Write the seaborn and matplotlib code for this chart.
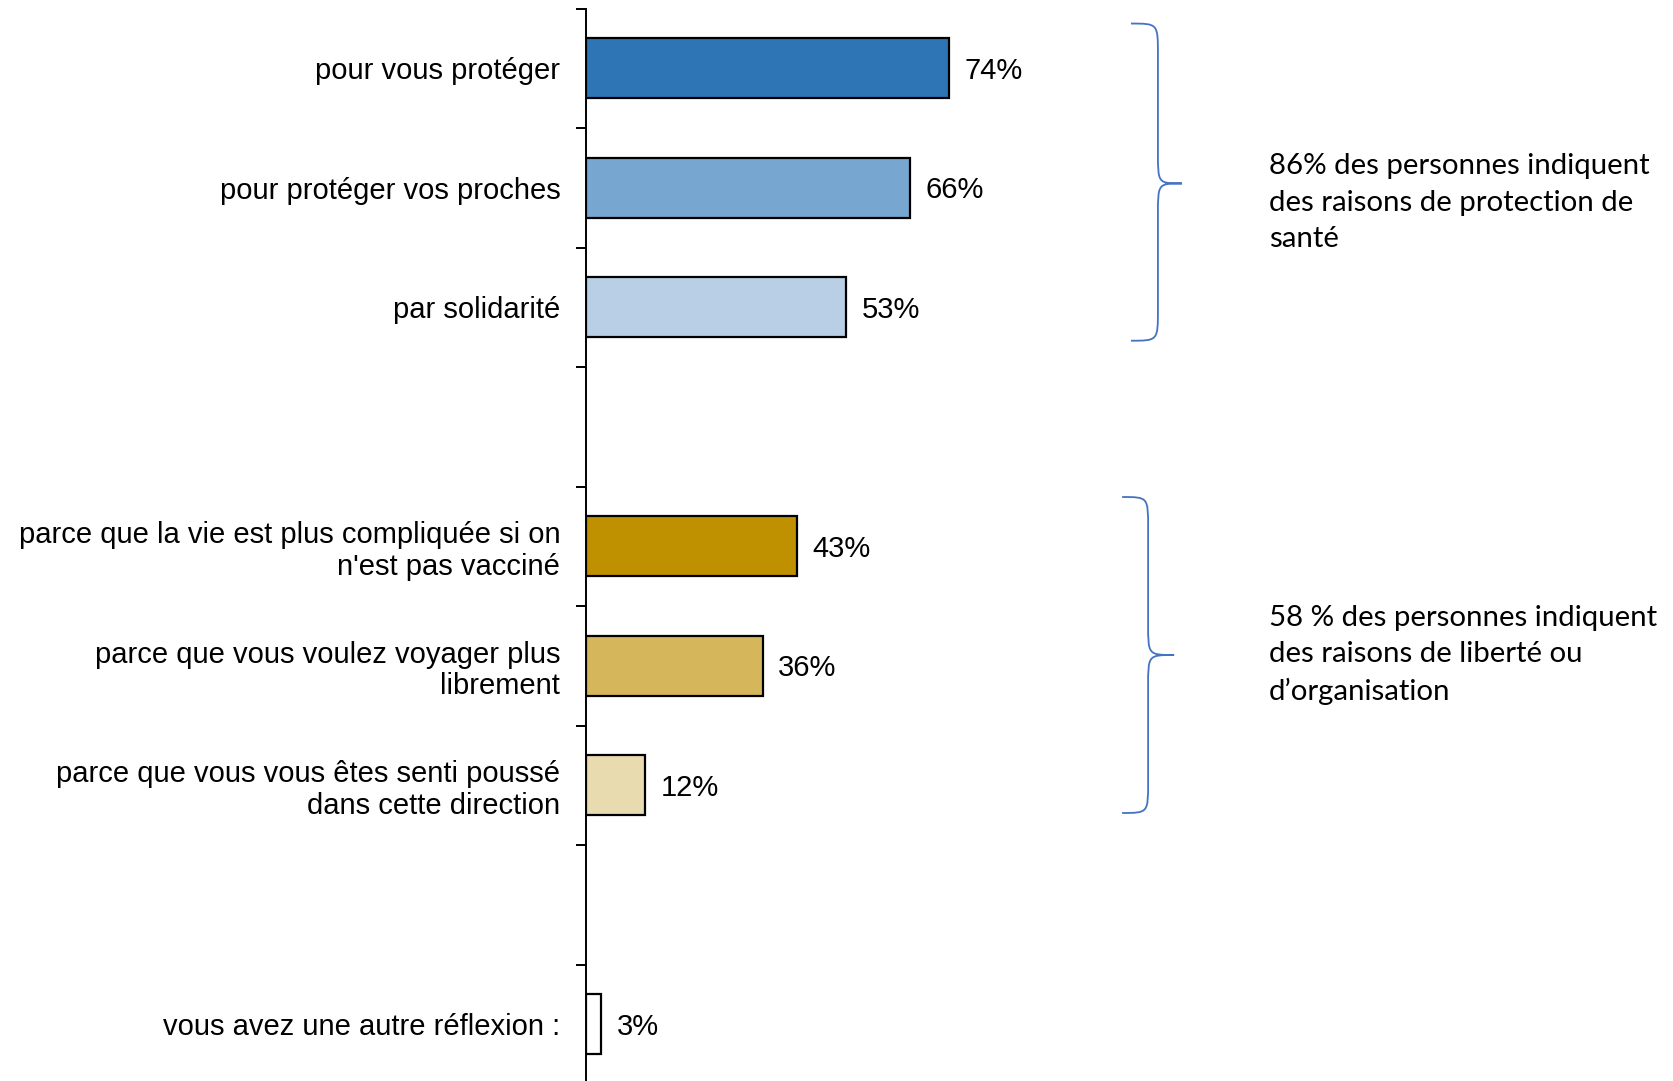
import pandas as pd
import seaborn as sns
import matplotlib.pyplot as plt
from matplotlib.path import Path
from matplotlib.patches import PathPatch

# data
labels = ['pour vous protéger',
          'pour protéger vos proches',
          'par solidarité',
          "parce que la vie est plus compliquée si on\nn'est pas vacciné",
          'parce que vous voulez voyager plus\nlibrement',
          'parce que vous vous êtes senti poussé\ndans cette direction',
          'vous avez une autre réflexion :']
values = [74, 66, 53, 43, 36, 12, 3]
slots = [0, 1, 2, 4, 5, 6, 8]   # rows 3 and 7 stay empty
colors = ['#2E75B6', '#77A6D0', '#B8CFE5', '#BF9000', '#D6B65A', '#E9DBB0', '#FFFFFF']

notes = ['86% des personnes indiquent\ndes raisons de protection de\nsanté',
         '58 % des personnes indiquent\ndes raisons de liberté ou\nd’organisation']
note_rows = [1.125, 4.91]

df = pd.DataFrame({'label': labels, 'value': values, 'slot': slots})

sns.set_theme(style='ticks')
plt.rcParams['font.family'] = ['Liberation Sans', 'DejaVu Sans']

W, H = 1673, 1081
fig = plt.figure(figsize=(W / 100, H / 100), dpi=100)
fig.patch.set_facecolor('white')
# 100% = 490.5 px, one row = 119.5 px
ax = fig.add_axes([586 / W, -3 / H, 490.5 / W, 1075.5 / H])
ax.set_facecolor('white')

sns.barplot(data=df, x='value', y='slot', hue='label', orient='h',
            native_scale=True, dodge=False, palette=dict(zip(labels, colors)),
            saturation=1, width=0.5, edgecolor='black', linewidth=1.6,
            legend=False, ax=ax)

ax.set_xlim(0, 100)
ax.set_ylim(8.5, -0.5)
ax.set_xlabel('')
ax.set_ylabel('')
ax.set_xticks([])
for s in ['top', 'right', 'bottom']:
    ax.spines[s].set_visible(False)
ax.spines['left'].set_linewidth(1.4)
ax.spines['left'].set_color('black')

ax.set_yticks(slots)
ax.set_yticklabels(labels, fontsize=21, color='black')
ax.set_yticks([s - 0.5 for s in range(9)], minor=True)
ax.tick_params(axis='y', which='major', length=0, pad=18.5)
ax.tick_params(axis='y', which='minor', length=7.5, width=1.4, color='black')
for t in ax.get_yticklabels():
    t.set_linespacing(1.17)

for v, s in zip(values, slots):
    ax.text(v + 3.2, s + 0.02, f'{v}%', va='center', ha='left', fontsize=21, color='black')

# curly braces grouping the bars: (ends x, spine x, tip x, top, tip, bottom)
braces = [(111.1, 116.6, 121.5, -0.374, 0.964, 2.28),
          (109.3, 114.6, 119.9, 3.588, 4.91, 6.232)]
r = 0.26
for x0, x1, x2, top, mid, bot in braces:
    verts = [(x0, top), (x1, top), (x1, top), (x1, top + r),
             (x1, mid - r),
             (x1, mid), (x1, mid), (x2, mid),
             (x1, mid), (x1, mid), (x1, mid + r),
             (x1, bot - r),
             (x1, bot), (x1, bot), (x0, bot)]
    codes = [Path.MOVETO, Path.CURVE4, Path.CURVE4, Path.CURVE4,
             Path.LINETO,
             Path.CURVE4, Path.CURVE4, Path.CURVE4,
             Path.CURVE4, Path.CURVE4, Path.CURVE4,
             Path.LINETO,
             Path.CURVE4, Path.CURVE4, Path.CURVE4]
    ax.add_patch(PathPatch(Path(verts, codes), fill=False, edgecolor='#4472C4',
                           linewidth=1.3, clip_on=False))

for txt, row in zip(notes, note_rows):
    ax.text(139.2, row, txt, ha='left', va='center', fontsize=21.2,
            family=['Lato', 'DejaVu Sans'], linespacing=1.5, color='black',
            clip_on=False)

fig.savefig('out.png', dpi=100, facecolor='white')
